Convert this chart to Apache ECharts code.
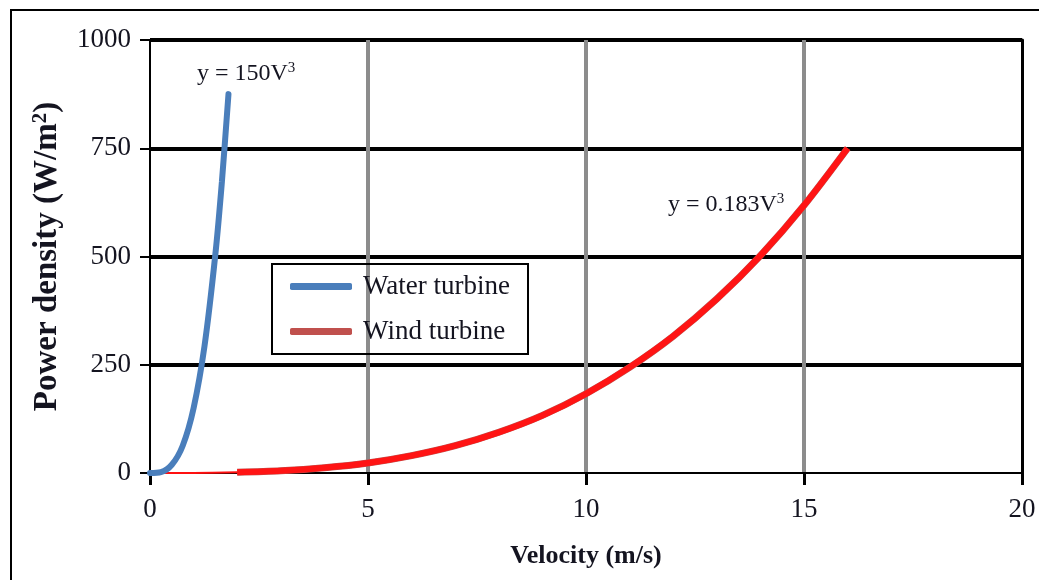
<!DOCTYPE html>
<html>
<head>
<meta charset="utf-8">
<script src="https://cdn.jsdelivr.net/npm/echarts@6/dist/echarts.min.js"></script>
<style>
  html, body { margin: 0; padding: 0; background: #fff; }
  #chart { width: 1039px; height: 580px; }
</style>
</head>
<body>
<div id="chart"></div>
<script>
// values
const waterV = [0, 0.25, 0.5, 0.75, 1, 1.25, 1.5, 1.65, 1.8]
const waterP = [0, 2, 19, 63, 150, 293, 506, 674, 875]

const windV = [2, 3, 4, 5, 6, 7, 8, 9, 10, 11, 12, 13, 14, 15, 16]
const windP = [1.5, 5, 12, 23, 40, 63, 94, 133, 183, 244, 316, 402, 502, 618, 750]

// power trendline for wind: thin stub from the origin, then over the data
const trendLowV = [0, 1, 2]
const trendLowP = [0, 0.2, 1.5]
const trendV = [2, 3, 4, 5, 6, 7, 8, 9, 10, 11, 12, 13, 14, 15, 16]
const trendP = [1.5, 5, 12, 23, 40, 63, 94, 133, 183, 244, 316, 402, 502, 618, 750]

const xTicks = [0, 5, 10, 15, 20]
const yTicks = [0, 250, 500, 750, 1000]

const seriesNames = ['Water turbine', 'Wind turbine']
const eqWater = 'y = 150V'
const eqWind = 'y = 0.183V'

const pairs = (xs, ys) => xs.map((x, i) => [x, ys[i]])

const serif = 'Liberation Serif'
const ink = '#141420'
const eqRich = {
  b: { fontFamily: serif, fontSize: 24, fill: ink },
  s: { fontFamily: serif, fontSize: 15, fill: ink, verticalAlign: 'top', padding: [0, 0, 10, 0] }
}

const chart = echarts.init(document.getElementById('chart'))

chart.setOption({
  backgroundColor: '#fff',
  animation: false,
  grid: { left: 150, right: 17, top: 40, bottom: 107 },
  legend: {
    orient: 'vertical',
    left: 272,
    top: 264,
    padding: [9, 18, 9, 18],
    itemGap: 18,
    itemWidth: 62,
    itemHeight: 7,
    borderColor: '#000',
    borderWidth: 2,
    textStyle: { fontFamily: serif, fontSize: 27, color: ink, padding: [0, 0, 0, 6] },
    data: [
      { name: seriesNames[0], icon: 'roundRect', itemStyle: { color: '#4a7ebb' } },
      { name: seriesNames[1], icon: 'roundRect', itemStyle: { color: '#c0504d' } }
    ]
  },
  xAxis: {
    type: 'value',
    min: xTicks[0],
    max: xTicks[xTicks.length - 1],
    interval: xTicks[1] - xTicks[0],
    name: 'Velocity (m/s)',
    nameLocation: 'middle',
    nameGap: 70,
    nameTextStyle: { fontFamily: serif, fontSize: 26, fontWeight: 'bold', color: ink },
    axisLine: { onZero: false, lineStyle: { color: '#000', width: 2 } },
    axisTick: { show: true, inside: false, length: 12, lineStyle: { color: '#000', width: 3 } },
    axisLabel: { fontFamily: serif, fontSize: 27, color: ink, margin: 23 },
    splitLine: { show: true, showMinLine: false, showMaxLine: false, lineStyle: { color: '#8c8c8c', width: 4 } }
  },
  yAxis: [
    {
      type: 'value',
      min: yTicks[0],
      max: yTicks[yTicks.length - 1],
      interval: yTicks[1] - yTicks[0],
      name: 'Power density (W/m{s|2})',
      nameLocation: 'middle',
      nameGap: 86,
      nameTextStyle: {
        fontFamily: serif, fontSize: 33, fontWeight: 'bold', color: ink,
        rich: {
          s: { fontFamily: serif, fontSize: 21, fontWeight: 'bold', color: ink, verticalAlign: 'top', padding: [0, 0, 13, 0] }
        }
      },
      axisLine: { show: true, lineStyle: { color: '#000', width: 2 } },
      axisTick: { show: true, inside: false, length: 10, lineStyle: { color: '#000', width: 2 } },
      axisLabel: { fontFamily: serif, fontSize: 27, color: ink, margin: 19, formatter: v => String(v) },
      splitLine: { show: true, showMinLine: false, lineStyle: { color: '#000', width: 4 } }
    },
    {
      type: 'value',
      position: 'right',
      min: yTicks[0],
      max: yTicks[yTicks.length - 1],
      axisLine: { show: true, lineStyle: { color: '#000', width: 3 } },
      axisTick: { show: false },
      axisLabel: { show: false },
      splitLine: { show: false }
    }
  ],
  graphic: [
    {
      type: 'rect',
      shape: { x: 11, y: 10, width: 1200, height: 700 },
      style: { fill: 'none', stroke: '#000', lineWidth: 2 },
      silent: true
    },
    {
      type: 'text',
      left: 197,
      top: 61,
      style: { text: '{b|' + eqWater + '}{s|3}', rich: eqRich }
    },
    {
      type: 'text',
      left: 668,
      top: 192,
      style: { text: '{b|' + eqWind + '}{s|3}', rich: eqRich }
    }
  ],
  series: [
    {
      name: 'trendLow',
      type: 'line',
      data: pairs(trendLowV, trendLowP),
      smooth: 0.3,
      showSymbol: false,
      lineStyle: { color: '#ff1010', width: 2 },
      z: 2
    },
    {
      name: seriesNames[1],
      type: 'line',
      data: pairs(windV, windP),
      smooth: 0.3,
      showSymbol: false,
      lineStyle: { color: '#c0504d', width: 7 },
      itemStyle: { color: '#c0504d' },
      z: 3
    },
    {
      name: 'trend',
      type: 'line',
      data: pairs(trendV, trendP),
      smooth: 0.3,
      showSymbol: false,
      lineStyle: { color: '#ff1414', width: 6 },
      z: 4
    },
    {
      name: seriesNames[0],
      type: 'line',
      data: pairs(waterV, waterP),
      smooth: 0.3,
      showSymbol: false,
      lineStyle: { color: '#4a7ebb', width: 6, cap: 'round' },
      itemStyle: { color: '#4a7ebb' },
      z: 5
    }
  ]
})
</script>
</body>
</html>
